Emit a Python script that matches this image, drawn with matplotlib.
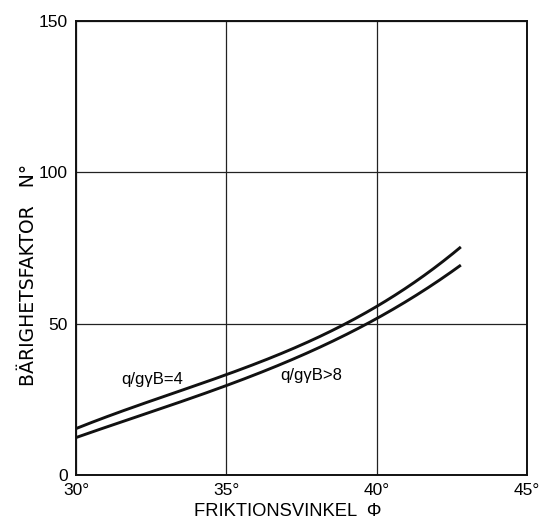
import numpy as np
import matplotlib
matplotlib.use("Agg")
from matplotlib import pyplot as plt

plt.rcParams['font.family'] = ['Liberation Sans', 'DejaVu Sans']

# friktionsvinkel (grader) och bärighetsfaktor
phi = [30, 32.5, 35, 37.5, 40, 42.8]
n_q4 = [15.5, 24.0, 33.3, 43.6, 55.0, 75.5]
n_q8 = [12.5, 20.5, 29.5, 40.2, 51.0, 69.5]

xticks = [30, 35, 40, 45]
yticks = [0, 50, 100, 150]

fig = plt.figure(figsize=(5.45, 5.23), dpi=100)
ax = fig.add_axes([0.1394, 0.0918, 0.8276, 0.8684])

# jämna till kurvorna lite med polynom
xs = np.linspace(phi[0], phi[-1], 200)
up = np.polyval(np.polyfit(phi, n_q4, 3), xs)
lo = np.polyval(np.polyfit(phi, n_q8, 3), xs)
ax.plot(xs, up, color='#111111', lw=2.1, solid_capstyle='butt')
ax.plot(xs, lo, color='#111111', lw=2.1, solid_capstyle='butt')

ax.set_xlim(30, 45)
ax.set_ylim(0, 150)
ax.set_xticks(xticks)
ax.set_yticks(yticks)
ax.set_xticklabels([f"{t}°" for t in xticks], fontsize=12.5)
ax.set_yticklabels([str(t) for t in yticks], fontsize=12.5)
ax.tick_params(length=0, pad=6)
ax.grid(True, color='#222222', lw=0.9)
for s in ax.spines.values():
    s.set_linewidth(1.4)
    s.set_color('#111111')

ax.text(31.5, 31.4, "q/gγB=4", fontsize=12, ha='left', va='center')
ax.text(36.8, 32.8, "q/gγB>8", fontsize=12, ha='left', va='center')

ax.set_xlabel("FRIKTIONSVINKEL  Φ", fontsize=13.2)
ax.xaxis.set_label_coords(0.47, -0.062)
ax.set_ylabel("BÄRIGHETSFAKTOR   N°", fontsize=13.5, family=['DejaVu Sans'])
ax.yaxis.set_label_coords(-0.085, 0.44)

fig.savefig("out.png", dpi=100)
